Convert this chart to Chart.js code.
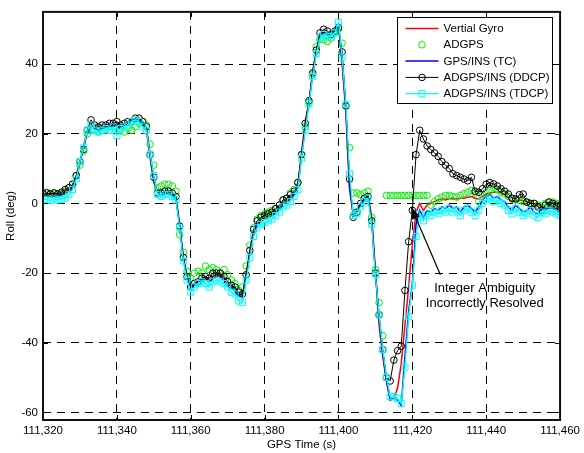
<!DOCTYPE html>
<html><head><meta charset="utf-8">
<script src="https://cdn.jsdelivr.net/npm/chart.js@4.4.1/dist/chart.umd.min.js"></script>
<style>html,body{margin:0;padding:0;background:#fff;}canvas{display:block;}</style>
</head><body>
<canvas id="c" width="584" height="453"></canvas>
<script>
// ---------------- DATA ----------------
const times = [
111320,111321,111322,111323,111324,111325,111326,111327,111328,111329,
111330,111331,111332,111333,111334,111335,111336,111337,111338,111339,
111340,111341,111342,111343,111344,111345,111346,111347,111348,111349,
111350,111351,111352,111353,111354,111355,111356,111357,111358,111359,
111360,111361,111362,111363,111364,111365,111366,111367,111368,111369,
111370,111371,111372,111373,111374,111375,111376,111377,111378,111379,
111380,111381,111382,111383,111384,111385,111386,111387,111388,111389,
111390,111391,111392,111393,111394,111395,111396,111397,111398,111399,
111400,111401,111402,111403,111404,111405,111406,111407,111408,111409,
111410,111411,111412,111413,111414,111415,111416,111417,111418,111419,
111420,111421,111422,111423,111424,111425,111426,111427,111428,111429,
111430,111431,111432,111433,111434,111435,111436,111437,111438,111439,
111440,111441,111442,111443,111444,111445,111446,111447,111448,111449,
111450,111451,111452,111453,111454,111455,111456,111457,111458,111459,111460];

const vertialGyro = [
2.5,2.7,2.6,2.8,2.7,3.0,3.5,4.2,5.0,7.0,
11.5,16.5,21.0,22.5,22.0,21.5,22.0,22.5,22.5,23.0,
23.0,22.5,23.0,23.5,24.0,24.0,24.5,23.0,21.0,13.0,
6.0,3.5,3.0,3.5,3.5,3.0,2.0,-7.0,-16.0,-21.5,
-24.0,-23.0,-22.0,-21.5,-21.0,-22.0,-21.0,-20.5,-20.5,-21.5,
-22.5,-23.5,-24.5,-26.0,-26.5,-20.0,-14.0,-8.0,-5.5,-4.5,
-4.0,-3.5,-3.0,-2.0,-1.0,0.5,1.0,2.0,3.5,5.0,
14.5,23.5,29.0,38.0,44.0,48.5,49.5,49.0,49.0,50.0,
51.5,40.0,26.0,4.0,-3.5,-2.0,0.0,1.5,2.5,-4.0,
-19.0,-35.0,-44.0,-51.0,-56.0,-56.0,-53.0,-46.0,-35.0,-24.0,
-12.0,-2.5,0.0,-2.0,-0.5,0.0,0.5,1.0,1.3,1.0,
1.3,1.5,1.3,1.5,1.5,1.8,2.0,1.5,1.3,2.0,
2.7,3.0,3.2,3.2,3.0,2.5,1.5,0.5,0.8,1.0,
0.8,0.4,0.2,-0.2,-0.5,-1.0,-1.2,-1.3,-1.4,-1.5,-1.5];

const adgps = [
3.0,3.2,2.8,3.0,2.5,2.8,3.5,4.5,5.5,8.0,
11.0,15.0,20.0,21.0,21.0,20.5,21.0,21.5,21.0,22.0,
22.0,21.0,20.5,21.5,21.0,22.0,23.0,23.5,22.5,17.0,
11.0,4.5,5.0,5.5,5.5,5.0,3.5,-9.0,-14.0,-19.5,
-21.5,-20.0,-19.5,-20.0,-18.0,-19.0,-18.5,-19.0,-20.0,-19.0,
-20.5,-22.0,-23.0,-25.0,-24.0,-18.0,-12.0,-7.0,-4.5,-3.5,
-3.0,-2.5,-2.0,-1.5,-0.5,1.0,1.5,3.0,4.0,6.0,
14.0,22.0,29.0,37.0,45.0,47.0,47.0,46.5,47.5,49.0,
50.0,46.0,28.0,16.0,3.0,3.0,2.5,3.0,3.5,-4.0,
-19.0,-28.5,-38.0,2.3,2.3,2.3,2.3,2.3,2.3,2.3,
2.3,2.3,2.3,2.3,2.3,-0.5,0.5,1.3,1.8,2.3,
2.3,2.0,1.8,2.3,2.8,3.2,3.7,3.0,0.5,2.5,
3.2,3.7,4.4,4.0,3.2,2.7,2.0,1.3,1.0,0.9,
0.5,0.3,0.0,0.0,-0.5,-1.0,0.0,0.4,0.4,0.0,-0.6];

const gpsInsTC = [
2.0,2.2,2.0,2.3,2.2,2.5,3.0,3.8,4.8,7.5,
12.0,16.0,20.5,22.0,21.5,21.0,21.5,22.0,22.0,22.5,
22.5,22.0,22.5,23.0,23.5,23.5,24.0,22.5,21.5,14.0,
7.0,3.0,2.5,3.0,3.0,2.5,1.5,-6.0,-15.5,-21.0,
-24.5,-23.5,-22.5,-22.0,-21.5,-22.5,-21.5,-21.0,-21.0,-22.0,
-23.0,-24.0,-25.0,-26.5,-27.0,-21.0,-14.5,-8.5,-6.0,-5.0,
-4.5,-4.0,-3.5,-2.5,-1.5,0.0,0.5,1.5,3.0,4.5,
13.5,22.0,28.5,37.0,43.5,48.0,49.0,48.5,48.5,49.5,
51.0,41.0,27.5,5.0,-3.0,-2.5,-0.5,1.0,2.0,-5.0,
-20.0,-33.0,-43.0,-51.0,-56.5,-56.0,-56.5,-58.0,-44.0,-31.0,
-23.0,-6.0,-2.0,-4.0,-2.0,-2.5,-1.5,-2.0,-1.0,-1.5,
-0.5,-1.5,-1.0,-2.5,-1.0,-0.5,-1.5,-2.5,-1.0,1.0,
2.0,2.5,1.5,2.0,1.0,0.5,-1.0,-2.0,-0.5,-1.5,
-2.5,-2.0,-1.0,-2.5,-3.0,-1.5,-2.0,-1.0,-1.5,-2.0,-2.5];

const adgpsInsDDCP = [
2.8,3.0,2.7,3.0,2.8,3.2,4.0,4.5,5.5,8.0,
12.0,15.5,21.0,24.0,22.5,22.0,22.5,22.5,23.0,23.0,
23.5,22.5,23.0,23.5,23.5,24.5,24.5,23.5,22.0,14.0,
7.5,3.0,3.0,3.5,3.5,3.0,2.0,-6.5,-15.5,-21.0,
-24.0,-23.0,-22.5,-21.5,-21.0,-21.5,-20.0,-20.0,-20.0,-21.0,
-22.5,-23.5,-24.0,-25.5,-26.0,-20.5,-13.5,-7.5,-5.0,-4.0,
-3.5,-3.0,-2.5,-1.5,-0.5,1.0,1.5,2.5,3.5,6.0,
14.0,23.0,29.5,37.5,44.0,49.0,50.0,49.5,48.5,49.5,
50.5,43.5,28.0,7.0,-4.0,-2.5,0.0,1.5,2.0,-5.0,
-20.0,-32.0,-42.0,-50.0,-51.0,-45.0,-42.3,-41.0,-25.0,-11.0,
-2.0,14.0,21.0,18.5,16.5,15.5,14.5,13.5,12.0,11.0,
10.0,8.5,8.0,7.5,7.0,6.5,7.5,3.5,3.2,4.2,
5.5,6.0,5.6,5.0,4.2,3.5,2.7,1.5,1.3,2.5,
2.7,0.4,0.0,0.0,-1.0,-2.0,-0.5,0.4,0.0,-0.5,-1.0];

const adgpsInsTDCP = [
1.0,1.2,0.8,1.3,1.0,1.2,1.5,2.5,4.0,7.0,
12.0,16.0,21.0,22.5,21.0,20.5,21.0,21.5,21.0,22.0,
19.5,21.5,22.0,22.5,23.5,24.0,23.5,22.0,21.0,14.0,
8.0,2.5,2.0,2.5,2.5,2.0,1.0,-7.0,-16.5,-22.0,
-25.5,-24.0,-23.0,-22.5,-23.0,-24.0,-22.5,-22.0,-22.5,-23.0,
-24.0,-25.5,-26.0,-28.0,-28.5,-22.0,-15.5,-9.5,-7.0,-6.0,
-5.5,-5.0,-4.5,-3.5,-2.5,-1.0,-0.5,0.5,2.0,4.0,
13.0,21.0,28.5,36.5,43.0,47.5,48.5,48.0,48.0,49.0,
52.0,42.0,28.5,8.5,-3.5,-3.0,-1.0,0.5,1.5,-6.0,
-20.5,-32.0,-42.0,-50.0,-55.5,-55.5,-56.0,-57.5,-47.0,-32.5,
-23.5,-9.5,-3.0,-5.0,-3.0,-3.5,-2.5,-3.0,-2.0,-2.5,
-1.5,-2.5,-2.0,-3.5,-2.0,-1.5,-2.5,-3.5,-2.0,0.0,
1.0,1.5,0.5,1.0,0.0,-0.5,-2.0,-3.0,-1.5,-2.5,
-3.5,-3.0,-2.0,-3.5,-4.0,-2.5,-3.0,-2.0,-2.5,-3.0,-3.5];

const seriesNames = ['Vertial Gyro','ADGPS','GPS/INS (TC)','ADGPS/INS (DDCP)','ADGPS/INS (TDCP)'];
const xTicks = [111320,111340,111360,111380,111400,111420,111440,111460];
const yTicks = [-60,-40,-20,0,20,40];
const xTitle = 'GPS Time (s)';
const yTitle = 'Roll (deg)';
const noteLines = ['Integer Ambiguity','Incorrectly Resolved'];
// annotation anchors in data units
const noteArrowTip = {x:111419.6, y:-0.8};
const noteArrowTail = {x:111427.6, y:-20.5};
const noteTextAt = {x:111439.6, y:-24.4};

// ---------------- CHART ----------------
const FONT = '"Liberation Sans", Arial, Helvetica, sans-serif';
Chart.defaults.font.family = FONT;
Chart.defaults.font.size = 11.5;
Chart.defaults.color = '#000';

function pts(ys){ return times.map((t,i)=>({x:t,y:ys[i]})); }

const datasets = [
  {label:seriesNames[0], data:pts(vertialGyro), borderColor:'#ff0000', borderWidth:1.5, pointRadius:0, showLine:true, order:5},
  {label:seriesNames[1], data:pts(adgps), borderColor:'#00ee00', backgroundColor:'rgba(0,0,0,0)', pointStyle:'circle', pointRadius:3.3, pointBorderWidth:1, showLine:false, order:4},
  {label:seriesNames[2], data:pts(gpsInsTC), borderColor:'#0000ff', borderWidth:1.5, pointRadius:0, showLine:true, order:3},
  {label:seriesNames[3], data:pts(adgpsInsDDCP), borderColor:'#000000', backgroundColor:'rgba(0,0,0,0)', borderWidth:1, pointStyle:'circle', pointRadius:3.3, pointBorderWidth:1, showLine:true, order:2},
  {label:seriesNames[4], data:pts(adgpsInsTDCP), borderColor:'#00ffff', backgroundColor:'rgba(0,0,0,0)', borderWidth:1.3, pointStyle:'rect', pointRadius:4.3, pointBorderWidth:1, showLine:true, order:1}
];

function marker(ctx, style, r, x, y, color){
  ctx.save(); ctx.strokeStyle=color; ctx.lineWidth=1; ctx.beginPath();
  if(style==='circle'){ ctx.arc(x,y,r,0,Math.PI*2); }
  else { const s=Math.SQRT1_2*r; ctx.rect(x-s,y-s,2*s,2*s); }
  ctx.stroke(); ctx.restore();
}

const overlay = {
  id:'overlay',
  afterDatasetsDraw(chart){
    const ctx = chart.ctx, a = chart.chartArea, xs = chart.scales.x, ys = chart.scales.y;
    ctx.save();
    // inside tick marks
    ctx.strokeStyle='#000'; ctx.lineWidth=1;
    xTicks.forEach(v=>{ const px=Math.round(xs.getPixelForValue(v))+0.5;
      ctx.beginPath(); ctx.moveTo(px,a.bottom); ctx.lineTo(px,a.bottom-5); ctx.moveTo(px,a.top); ctx.lineTo(px,a.top+5); ctx.stroke(); });
    yTicks.forEach(v=>{ const py=Math.round(ys.getPixelForValue(v))+0.5;
      ctx.beginPath(); ctx.moveTo(a.left,py); ctx.lineTo(a.left+5,py); ctx.moveTo(a.right,py); ctx.lineTo(a.right-5,py); ctx.stroke(); });
    // box
    ctx.strokeStyle='#111'; ctx.lineWidth=2;
    ctx.strokeRect(a.left, a.top, a.right-a.left, a.bottom-a.top);
    // annotation arrow
    const tx=xs.getPixelForValue(noteArrowTip.x), ty=ys.getPixelForValue(noteArrowTip.y);
    const fx=xs.getPixelForValue(noteArrowTail.x), fy=ys.getPixelForValue(noteArrowTail.y);
    const ang=Math.atan2(ty-fy, tx-fx), L=13, W=4;
    ctx.strokeStyle='#000'; ctx.lineWidth=1.2;
    ctx.beginPath(); ctx.moveTo(fx,fy); ctx.lineTo(tx-Math.cos(ang)*L*0.8, ty-Math.sin(ang)*L*0.8); ctx.stroke();
    ctx.fillStyle='#000'; ctx.beginPath();
    ctx.moveTo(tx,ty);
    ctx.lineTo(tx-Math.cos(ang)*L-Math.sin(ang)*W, ty-Math.sin(ang)*L+Math.cos(ang)*W);
    ctx.lineTo(tx-Math.cos(ang)*L+Math.sin(ang)*W, ty-Math.sin(ang)*L-Math.cos(ang)*W);
    ctx.closePath(); ctx.fill();
    // annotation text
    ctx.font='13px '+FONT; ctx.textAlign='center'; ctx.textBaseline='middle'; ctx.fillStyle='#000';
    const cx=xs.getPixelForValue(noteTextAt.x), cy=ys.getPixelForValue(noteTextAt.y);
    noteLines.forEach((s,i)=>ctx.fillText(s,cx,cy+i*15));
    // legend
    const lx=397.5, ly=17.5, lw=155, lh=86;
    ctx.fillStyle='#fff'; ctx.fillRect(lx,ly,lw,lh);
    ctx.strokeStyle='#000'; ctx.lineWidth=1; ctx.strokeRect(lx,ly,lw,lh);
    ctx.font='11.5px '+FONT; ctx.textAlign='left'; ctx.textBaseline='middle';
    chart.data.datasets.forEach((d,i)=>{
      const ry=ly+11+i*16.3, x0=lx+8, x1=lx+41, xm=(x0+x1)/2;
      if(d.showLine){ ctx.strokeStyle=d.borderColor; ctx.lineWidth=d.borderWidth; ctx.beginPath(); ctx.moveTo(x0,ry); ctx.lineTo(x1,ry); ctx.stroke(); }
      if(d.pointRadius>0) marker(ctx, d.pointStyle, d.pointRadius, xm, ry, d.borderColor);
      ctx.fillStyle='#000'; ctx.fillText(d.label, lx+46, ry+0.5);
    });
    ctx.restore();
  }
};

new Chart(document.getElementById('c'), {
  type:'scatter',
  data:{datasets},
  options:{
    responsive:false, animation:false, devicePixelRatio:1,
    layout:{padding:{top:8,right:20,left:0,bottom:0}},
    plugins:{legend:{display:false}, tooltip:{enabled:false}},
    elements:{line:{tension:0}},
    scales:{
      x:{type:'linear', min:111320, max:111460,
         afterBuildTicks:s=>{ s.ticks = xTicks.map(v=>({value:v})); },
         afterFit:s=>{ s.height = 33; },
         ticks:{padding:4, maxRotation:0, autoSkip:false, color:'#000', font:{size:11.5},
                callback:v=>String(v).replace(/\B(?=(\d{3})+(?!\d))/g, ',')},
         grid:{color:'#000', lineWidth:1, drawTicks:false, tickLength:0},
         border:{display:false, dash:[8,6]},
         title:{display:true, text:xTitle, font:{size:11.5}, padding:{top:0,bottom:1.5}}},
      y:{type:'linear', min:-62.2, max:55,
         afterBuildTicks:s=>{ s.ticks = yTicks.map(v=>({value:v})); },
         afterFit:s=>{ s.width = 43; },
         ticks:{padding:5, color:'#000', font:{size:11.5}},
         grid:{color:'#000', lineWidth:1, drawTicks:false, tickLength:0},
         border:{display:false, dash:[8,6]},
         title:{display:true, text:yTitle, font:{size:11.5}, padding:{top:4,bottom:0}}}
    }
  },
  plugins:[overlay]
});
</script>
</body></html>
